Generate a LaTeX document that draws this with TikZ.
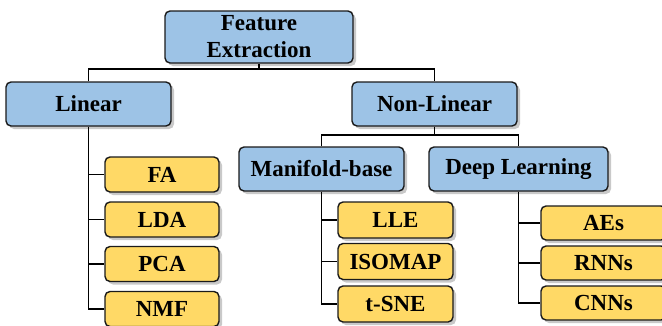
\documentclass[tikz,border=0pt]{standalone}
\usepackage{fontspec}
\setmainfont{Liberation Serif}
\usetikzlibrary{shadows}
\definecolor{boxblue}{HTML}{9DC3E6}
\definecolor{boxyellow}{HTML}{FFD966}
\definecolor{edgedark}{HTML}{1A1A1A}
\tikzset{
  basebox/.style={draw=edgedark, line width=1.4pt, rounded corners=5pt, inner sep=0pt,
    font=\fontsize{23}{27}\selectfont\bfseries, align=center,
    drop shadow={shadow xshift=3pt, shadow yshift=-3pt, opacity=0.3, fill=black!70}},
  bluebox/.style={basebox, fill=boxblue},
  yellowbox/.style={basebox, fill=boxyellow},
  conn/.style={draw=black, line width=1.5pt}
}
\begin{document}
\begin{tikzpicture}[x=1pt, y=-1pt]
\path[use as bounding box, clip] (0,0) rectangle (662,325);
% top level
\node[bluebox, minimum width=188pt, minimum height=52pt] (FE) at (259,37) {Feature\\Extraction};
\node[bluebox, minimum width=165pt, minimum height=44pt] (LIN) at (88.5,104) {Linear};
\node[bluebox, minimum width=165pt, minimum height=44pt] (NL) at (434.5,104) {Non-Linear};
\node[bluebox, minimum width=165pt, minimum height=44pt] (MB) at (321.5,169) {Manifold-base};
\node[bluebox, minimum width=179pt, minimum height=44pt] (DL) at (518.5,169) {Deep Learning};
% linear leaves
\node[yellowbox, minimum width=114pt, minimum height=35pt] (FA) at (162,174.5) {FA};
\node[yellowbox, minimum width=114pt, minimum height=35pt] (LDA) at (162,219.5) {LDA};
\node[yellowbox, minimum width=114pt, minimum height=35pt] (PCA) at (162,264) {PCA};
\node[yellowbox, minimum width=114pt, minimum height=35pt] (NMF) at (162,309) {NMF};
% manifold leaves
\node[yellowbox, minimum width=115pt, minimum height=36pt] (LLE) at (395.5,220) {LLE};
\node[yellowbox, minimum width=115pt, minimum height=36pt] (ISO) at (395.5,261.5) {ISOMAP};
\node[yellowbox, minimum width=115pt, minimum height=36pt] (TSNE) at (395.5,304) {t-SNE};
% deep learning leaves
\node[yellowbox, minimum width=125pt, minimum height=34pt] (AE) at (603.5,223) {AEs};
\node[yellowbox, minimum width=125pt, minimum height=34pt] (RNN) at (603.5,263) {RNNs};
\node[yellowbox, minimum width=125pt, minimum height=34pt] (CNN) at (603.5,303) {CNNs};
% connectors
\coordinate (b1) at (259,69);
\coordinate (b2) at (434.5,135);
\draw[conn] (FE.south) -- (b1);
\draw[conn] (LIN.north) |- (b1) -| (NL.north);
\draw[conn] (NL.south) -- (b2);
\draw[conn] (MB.north) |- (b2) -| (DL.north);
\draw[conn] (LIN.south) |- (NMF.west);
\draw[conn] (LIN.south |- FA.west) -- (FA.west);
\draw[conn] (LIN.south |- LDA.west) -- (LDA.west);
\draw[conn] (LIN.south |- PCA.west) -- (PCA.west);
\draw[conn] (MB.south) |- (TSNE.west);
\draw[conn] (MB.south |- LLE.west) -- (LLE.west);
\draw[conn] (MB.south |- ISO.west) -- (ISO.west);
\draw[conn] (DL.south) |- (CNN.west);
\draw[conn] (DL.south |- AE.west) -- (AE.west);
\draw[conn] (DL.south |- RNN.west) -- (RNN.west);
\end{tikzpicture}
\end{document}
